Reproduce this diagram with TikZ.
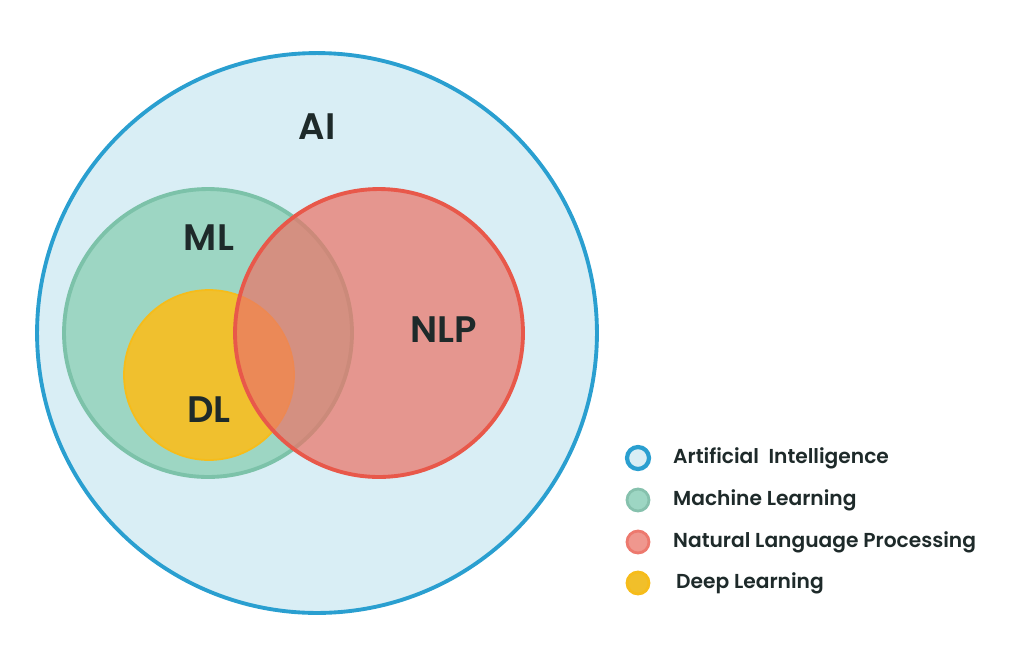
\documentclass[tikz,border=0pt]{standalone}
\usepackage{fontspec}
\setmainfont{Poppins}[BoldFont={Poppins SemiBold}]
\usepackage{tikz}
\usetikzlibrary{positioning}

\definecolor{aifill}{HTML}{D9EEF5}
\definecolor{aiedge}{HTML}{2A9FD0}
\definecolor{mlfill}{HTML}{9DD6C3}
\definecolor{mledge}{HTML}{7CC2A9}
\definecolor{dlfill}{HTML}{F0C02E}
\definecolor{dledge}{HTML}{F6BC1A}
\definecolor{nlpfill}{HTML}{EA7568}
\definecolor{nlpedge}{HTML}{E8584A}
\definecolor{labeltext}{HTML}{1E2A2A}

\begin{document}
\begin{tikzpicture}[x=0.02cm,y=-0.02cm,
  set/.style={circle,inner sep=0pt,line width=2.2pt},
  setlabel/.style={font=\fontsize{21}{21}\selectfont\bfseries,text=labeltext},
  dot/.style={circle,inner sep=0pt,minimum size=0.44cm,line width=1.6pt},
  legendtext/.style={font=\fontsize{11.5}{12}\selectfont\bfseries,text=labeltext,anchor=west}]
\useasboundingbox (0,0) rectangle (1024,650);

\node[set,draw=aiedge,fill=aifill,minimum size=11.2cm] (ai) at (317,333) {};
\node[set,draw=mledge,fill=mlfill,minimum size=5.76cm] (ml) at (208,333) {};
\node[set,draw=dledge,fill=dlfill,minimum size=3.4cm,line width=1pt] (dl) at (209,375) {};
\node[set,draw=nlpedge,fill=nlpfill,fill opacity=0.72,minimum size=5.76cm] (nlp) at (379,333) {};

\node[setlabel] (ailabel) at (317,127) {AI};
\node[setlabel] (mllabel) at (209,238) {ML};
\node[setlabel] (dllabel) at (209,410) {DL};
\node[setlabel] (nlplabel) at (444,330) {NLP};

\node[dot,draw=aiedge,fill=aifill,line width=2.4pt] (aidot) at (638,458) {};
\node[dot,draw=mlfill!90!black!60!mledge,fill=mlfill] (mldot) at (638,500) {};
\node[dot,draw=nlpedge!80,fill=nlpfill!75] (nlpdot) at (638,542) {};
\node[dot,draw=dledge,fill=dlfill!80!dledge] (dldot) at (638,583) {};

\node[legendtext] (aitext) at (667,458) {Artificial\ \ Intelligence};
\node[legendtext] (mltext) at (667,500) {Machine Learning};
\node[legendtext] (nlptext) at (667,542) {Natural Language Processing};
\node[legendtext] (dltext) at (670,583) {Deep Learning};
\end{tikzpicture}
\end{document}
